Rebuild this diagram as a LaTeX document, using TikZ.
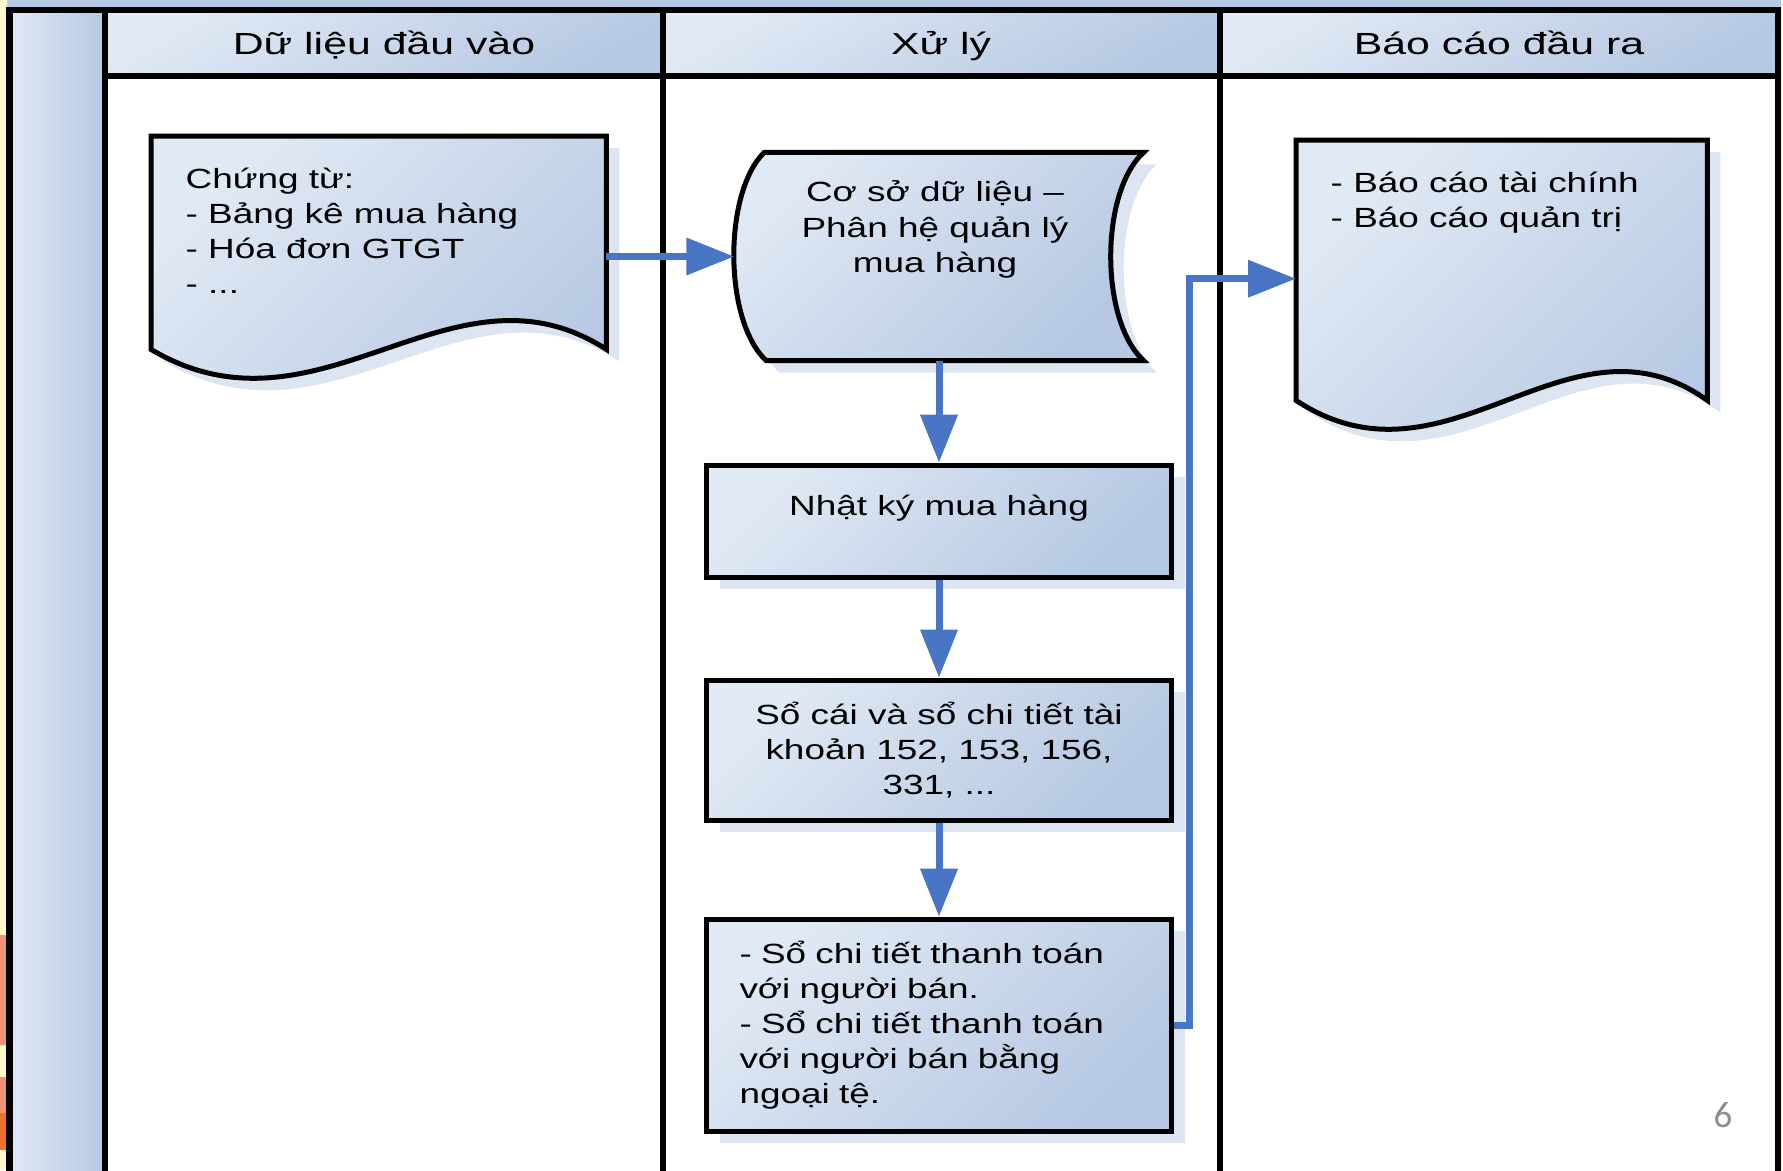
\documentclass[tikz,border=0pt]{standalone}
\usepackage{fontspec}
\setmainfont{Liberation Sans}[FakeStretch=1.4]
\newfontfamily\bodyfont{Liberation Sans}[FakeStretch=1.33]
\newfontfamily\pagefont{Carlito}
\usetikzlibrary{positioning,calc,arrows.meta,shadows}

\definecolor{boxlite}{RGB}{225,233,244}
\definecolor{boxdark}{RGB}{182,200,227}
\definecolor{shadowc}{RGB}{220,229,241}
\definecolor{flowblue}{RGB}{72,117,196}
\definecolor{slideyellow}{RGB}{255,249,205}
\definecolor{slidesalmon}{RGB}{238,146,118}
\definecolor{slideorange}{RGB}{238,112,42}

% wavy document outline hung below a node
\newcommand{\docpath}[1]{%
  \path[boxfill] (#1.north west) -- (#1.north east) -- (#1.south east)
    .. controls ($(#1.south east)!0.34!(#1.south west)+(0,-100)$)
    and ($(#1.south west)!0.37!(#1.south east)+(0,100)$) .. (#1.south west) -- cycle;}

\begin{document}
\begin{tikzpicture}[x=0.1mm,y=-0.1mm,
  laneline/.style={line width=0.65mm,line cap=rect},
  boxfill/.style={draw=black,line width=0.5mm,top color=boxlite,bottom color=boxdark,
    shading angle=45,drop shadow={shadow xshift=1.3mm,shadow yshift=-1.2mm,fill=shadowc,opacity=1}},
  docnode/.style={inner sep=0pt,anchor=north west},
  stepbox/.style={boxfill,rectangle,minimum width=46.5mm,inner xsep=3.3mm,
    font=\bodyfont\fontsize{7.9}{10}\selectfont},
  bodytext/.style={inner sep=0pt,font=\bodyfont\fontsize{7.9}{10}\selectfont},
  headtext/.style={anchor=base,font=\fontsize{8.7}{10}\selectfont},
  flow/.style={draw=flowblue,line width=0.7mm,-{Triangle[length=4.8mm,width=3.6mm]}},
  node distance=10mm]

  \fill[white] (0,0) rectangle (1783,1170);
  \useasboundingbox (0,0) rectangle (1783,1170);

  % slide edge
  \fill[slideyellow] (0,0) rectangle (7,1170);
  \fill[slidesalmon] (0,935) rectangle (7,1045) (0,1077) rectangle (7,1113);
  \fill[slideorange] (0,1113) rectangle (7,1150);
  \fill[slideyellow] (1781,0) rectangle (1783,1170);
  \fill[boxdark] (7,0) rectangle (1781,9);

  % pool, label column and lane headers
  \fill[left color=boxlite,right color=boxdark] (9,10) rectangle (105,1170);
  \foreach \xa/\xb in {105/663,663/1220,1220/1778}
    \fill[top color=boxlite,bottom color=boxdark,shading angle=30] (\xa,10) rectangle (\xb,76);
  \draw[laneline] (9.5,1175) -- (9.5,10) -- (1778,10) -- (1778,1175);
  \foreach \x in {105,663,1220} \draw[laneline] (\x,10) -- (\x,1175);
  \draw[laneline] (105,76) -- (1778,76);

  \node[headtext] (hdin) at (384,54) {Dữ liệu đầu vào};
  \node[headtext] (hdproc) at (941,54) {Xử lý};
  \node[headtext] (hdout) at (1499,54) {Báo cáo đầu ra};

  % input documents
  \node[docnode,minimum width=45.4mm,minimum height=21.2mm] (ct) at (151,136) {};
  \docpath{ct}
  \node[bodytext,anchor=north west,align=left] (cttext) at ($(ct.north west)+(34,31)$)
    {Chứng từ:\\- Bảng kê mua hàng\\- Hóa đơn GTGT\\- ...};

  % stored data
  \node[minimum width=40.8mm,minimum height=20.7mm,inner sep=0pt] (csdl) at (939,256.5) {};
  \path[boxfill] ($(csdl.north west)+(30,0)$) -- (csdl.north east)
    .. controls ($(csdl.north east)+(-44,40)$) and ($(csdl.south east)+(-44,-40)$) .. (csdl.south east)
    -- ($(csdl.south west)+(32,0)$)
    .. controls ($(csdl.south west)+(-11,-40)$) and ($(csdl.north west)+(-11,40)$) .. ($(csdl.north west)+(30,0)$)
    -- cycle;
  \node[bodytext,anchor=north,align=center] (csdltext) at ($(csdl.north)+(-4,28)$)
    {Cơ sở dữ liệu –\\Phân hệ quản lý\\mua hàng};

  % books
  \node[stepbox,minimum height=11.2mm,text depth=3.1mm,below=10.2mm of csdl] (nhatky) {Nhật ký mua hàng};
  \node[stepbox,minimum height=14mm,align=center,below=9.8mm of nhatky] (socai)
    {Sổ cái và sổ chi tiết tài\\khoản 152, 153, 156,\\331, ...};
  \node[stepbox,minimum height=21.2mm,text width=39.9mm,align=left,below=9.4mm of socai] (sochitiet)
    {- Sổ chi tiết thanh toán\\với người bán.\\- Sổ chi tiết thanh toán\\với người bán bằng\\ngoại tệ.};

  % output reports
  \node[docnode,minimum width=41mm,minimum height=25.9mm] (baocao) at (1296,140) {};
  \docpath{baocao}
  \node[bodytext,anchor=north west,align=left] (bctext) at ($(baocao.north west)+(34,31)$)
    {- Báo cáo tài chính\\- Báo cáo quản trị};

  \draw[flow] (ct.east |- csdl.west) -- (csdl.west);
  \draw[flow] (csdl.south) -- (nhatky.north);
  \draw[flow] (nhatky.south) -- (socai.north);
  \draw[flow] (socai.south) -- (sochitiet.north);
  \draw[flow] (sochitiet.east) -- ++(15,0) |- ([yshift=-0.85mm]baocao.west);

  \node[font=\pagefont\fontsize{10.5}{12}\selectfont,text=black!45] (pagenum) at (1723,1115) {6};
\end{tikzpicture}
\end{document}
